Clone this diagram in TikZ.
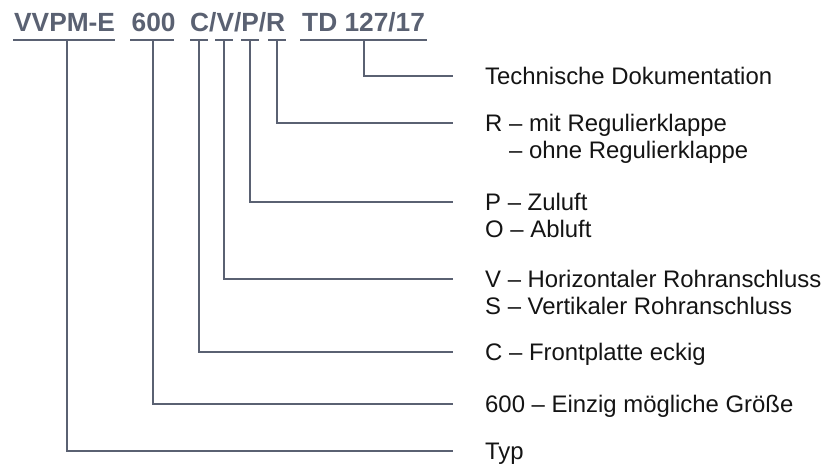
\documentclass[tikz,border=0pt]{standalone}
\usepackage{fontspec}
\setmainfont{Liberation Sans}
\definecolor{lc}{HTML}{5A6172}
\definecolor{tc}{HTML}{141414}
\tikzset{
  lead/.style={draw=lc, line width=2pt},
  code/.style={anchor=base west, inner sep=0pt, font=\fontsize{26.3}{30}\selectfont\bfseries, text=lc},
  item/.style={anchor=base west, inner sep=0pt, font=\fontsize{23.9}{27}\selectfont, text=tc},
}
\begin{document}
\begin{tikzpicture}[x=1pt,y=-1pt]
\useasboundingbox (0,0) rectangle (829,470);
% header codes
\node[code] (cType) at (14,31.5) {VVPM-E};
\node[code] (cSize) at (131.5,31.5) {600};
\node[code] (cOpt) at (190,31.5) {C/V/P/R};
\node[code] (cTD) at (302,31.5) {TD 127/17};
% underline end points
\coordinate (uTa) at (13,40.5);  \coordinate (uTb) at (115,40.5);
\coordinate (uSa) at (130,40.5); \coordinate (uSb) at (174,40.5);
\coordinate (uCa) at (190,40.5); \coordinate (uCb) at (208,40.5);
\coordinate (uVa) at (215,40.5); \coordinate (uVb) at (233,40.5);
\coordinate (uPa) at (241,40.5); \coordinate (uPb) at (259,40.5);
\coordinate (uRa) at (268,40.5); \coordinate (uRb) at (286,40.5);
\coordinate (uDa) at (300,40.5); \coordinate (uDb) at (427,40.5);
\foreach \a/\b in {uTa/uTb,uSa/uSb,uCa/uCb,uVa/uVb,uPa/uPb,uRa/uRb,uDa/uDb}
  \draw[lead] (\a) -- (\b);
% taps
\coordinate (tT) at (67,40.5);
\coordinate (tS) at (153,40.5);
\coordinate (tC) at (199,40.5);
\coordinate (tV) at (224,40.5);
\coordinate (tP) at (250,40.5);
\coordinate (tR) at (277,40.5);
\coordinate (tD) at (364,40.5);
% line ends
\coordinate (eD) at (453,76);
\coordinate (eR) at (453,123);
\coordinate (eP) at (453,202);
\coordinate (eV) at (453,279);
\coordinate (eC) at (453,352);
\coordinate (eS) at (453,404);
\coordinate (eT) at (453,451);
% items
\node[item] (iD) at (485,84.5) {Technische Dokumentation};
\node[item] (iR) at (485,131.5) {R – mit Regulierklappe};
\node[item] (iR2) at (485,158.5) {\hphantom{R }– ohne Regulierklappe};
\node[item] (iP) at (485,210.5) {P – Zuluft};
\node[item] (iO) at (485,237.5) {O – Abluft};
\node[item] (iV) at (485,287.5) {V – Horizontaler Rohranschluss};
\node[item] (iS2) at (485,314.5) {S – Vertikaler Rohranschluss};
\node[item] (iC) at (485,360.5) {C – Frontplatte eckig};
\node[item] (iS) at (485,412.5) {600 – Einzig mögliche Größe};
\node[item] (iT) at (485,459.5) {Typ};
% connectors
\draw[lead] (tD) |- (eD);
\draw[lead] (tR) |- (eR);
\draw[lead] (tP) |- (eP);
\draw[lead] (tV) |- (eV);
\draw[lead] (tC) |- (eC);
\draw[lead] (tS) |- (eS);
\draw[lead] (tT) |- (eT);
\end{tikzpicture}
\end{document}
